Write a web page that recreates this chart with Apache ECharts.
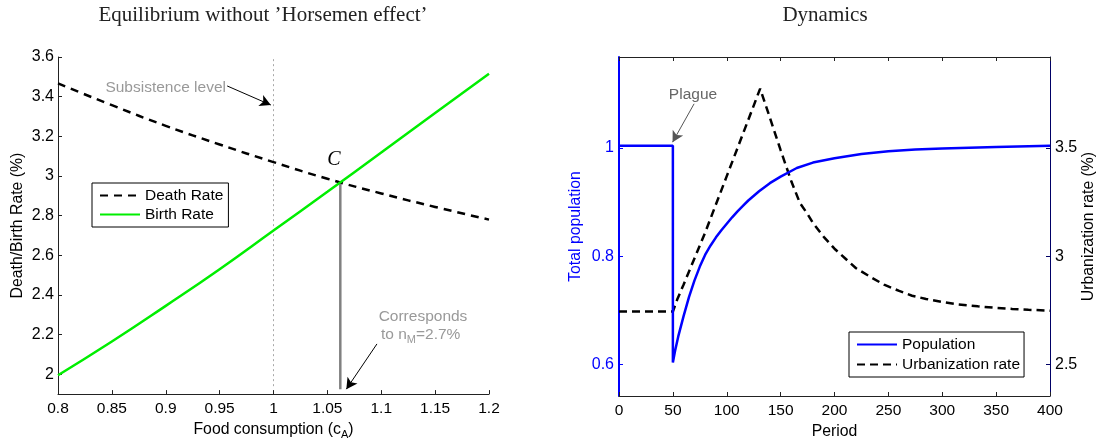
<!DOCTYPE html>
<html>
<head>
<meta charset="utf-8">
<script src="https://cdn.jsdelivr.net/npm/echarts@6/dist/echarts.min.js"></script>
<style>
html, body { margin: 0; padding: 0; background: #fff; }
#main { width: 1101px; height: 445px; }
</style>
</head>
<body>
<div id="main"></div>
<script>
// left panel: equilibrium
var foodX = [0.8, 0.85, 0.9, 0.95, 1.0, 1.05, 1.1, 1.15, 1.2];
var deathRate = [3.467, 3.357, 3.253, 3.159, 3.07, 2.986, 2.912, 2.844, 2.78];
var birthRate = [1.995, 2.165, 2.345, 2.53, 2.725, 2.92, 3.118, 3.318, 3.515];
var leftYTicks = [2, 2.2, 2.4, 2.6, 2.8, 3, 3.2, 3.4, 3.6];
var subsistenceX = 1;
var subsistenceRange = [1.94, 3.6];
var equilibriumX = 1.062;
var equilibriumRange = [1.925, 2.967];

// right panel: dynamics
var popPeriod = [0, 50, 50, 52, 55, 60, 65, 70, 75, 80, 85, 90, 95, 100, 105, 110, 115, 120, 130, 140, 150, 165, 180, 200, 225, 250, 275, 300, 350, 400];
var popValue = [1.004, 1.004, 0.604, 0.625, 0.652, 0.69, 0.725, 0.755, 0.781, 0.803, 0.82, 0.835, 0.848, 0.86, 0.872, 0.883, 0.893, 0.903, 0.92, 0.935, 0.947, 0.963, 0.973, 0.981, 0.989, 0.994, 0.997, 0.999, 1.002, 1.004];
var urbPeriod = [0, 50, 54, 60, 70, 80, 90, 100, 110, 120, 131, 140, 150, 160, 168, 175, 180, 190, 200, 210, 220, 235, 246, 260, 272, 285, 300, 315, 333, 350, 365, 380, 400];
var urbValue = [2.745, 2.745, 2.80, 2.87, 2.99, 3.11, 3.24, 3.37, 3.50, 3.63, 3.774, 3.64, 3.49, 3.345, 3.245, 3.195, 3.154, 3.09, 3.035, 2.99, 2.945, 2.9, 2.869, 2.84, 2.818, 2.803, 2.789, 2.778, 2.769, 2.762, 2.757, 2.753, 2.749];
var popTicks = [0.6, 0.8, 1];
var urbTicks = [2.5, 3, 3.5];

function pairs(xs, ys) {
    var out = [];
    for (var i = 0; i < xs.length; i++) out.push([xs[i], ys[i]]);
    return out;
}

var sans = '"Liberation Sans", Arial, Helvetica, sans-serif';
var serif = '"Liberation Serif", "Times New Roman", serif';
var xTickFont = 15.5;
var yTickFont = 16;
var nameFont = 15.8;

var chart = echarts.init(document.getElementById('main'));

var option = {
    animation: false,
    backgroundColor: '#fff',
    textStyle: { fontFamily: sans },
    grid: [
        { left: 58, top: 57, width: 431, height: 339 },
        { left: 619, top: 57, width: 431, height: 339 }
    ],
    legend: [
        {
            data: ['Death Rate', 'Birth Rate'],
            orient: 'vertical',
            left: 92, top: 183,
            itemWidth: 40, itemHeight: 14, itemGap: 2,
            padding: [4, 5, 4, 7],
            borderColor: '#000', borderWidth: 1,
            backgroundColor: '#fff',
            itemStyle: { opacity: 0 },
            textStyle: { fontSize: 15.5, color: '#000', fontFamily: sans, lineHeight: 17 }
        },
        {
            data: ['Population', 'Urbanization rate'],
            orient: 'vertical',
            left: 849, top: 332,
            itemWidth: 40, itemHeight: 14, itemGap: 3,
            padding: [4, 4, 4, 7],
            borderColor: '#000', borderWidth: 1,
            backgroundColor: '#fff',
            itemStyle: { opacity: 0 },
            textStyle: { fontSize: 15.5, color: '#000', fontFamily: sans, lineHeight: 17 }
        }
    ],
    xAxis: [
        {
            type: 'value', gridIndex: 0, min: 0.8, max: 1.2, interval: 0.05,
            name: 'Food consumption (c{sub|A})', nameLocation: 'middle', nameGap: 23,
            nameTextStyle: {
                fontSize: nameFont, color: '#000', fontFamily: sans,
                rich: { sub: { fontSize: 11, padding: [9, 0, 0, 0], color: '#000', fontFamily: sans } }
            },
            axisLine: { onZero: false, lineStyle: { color: '#222', width: 1 } },
            axisTick: { inside: true, length: 4, lineStyle: { color: '#222' } },
            axisLabel: { fontSize: xTickFont, color: '#000', margin: 7 },
            splitLine: { show: false }
        },
        {
            type: 'value', gridIndex: 1, min: 0, max: 400, interval: 50,
            name: 'Period', nameLocation: 'middle', nameGap: 25,
            nameTextStyle: { fontSize: nameFont, color: '#000', fontFamily: sans },
            axisLine: { onZero: false, lineStyle: { color: '#222', width: 1 } },
            axisTick: { inside: true, length: 4, lineStyle: { color: '#222' } },
            axisLabel: { fontSize: xTickFont, color: '#000', margin: 7 },
            splitLine: { show: false }
        },
        {
            type: 'value', gridIndex: 1, position: 'top', min: 0, max: 400, interval: 50,
            axisLine: { onZero: false, lineStyle: { color: '#222', width: 1 } },
            axisTick: { inside: true, length: 4, lineStyle: { color: '#222' } },
            axisLabel: { show: false },
            splitLine: { show: false }
        }
    ],
    yAxis: [
        {
            type: 'value', gridIndex: 0, min: 1.9, max: 3.6,
            name: 'Death/Birth Rate (%)', nameLocation: 'middle', nameGap: 32,
            nameTextStyle: { fontSize: nameFont, color: '#000', fontFamily: sans },
            axisLine: { show: true, onZero: false, lineStyle: { color: '#222', width: 1 } },
            axisTick: { show: true, inside: true, length: 4, customValues: leftYTicks, lineStyle: { color: '#222' } },
            axisLabel: { fontSize: yTickFont, color: '#000', margin: 4, customValues: leftYTicks },
            splitLine: { show: false }
        },
        {
            type: 'value', gridIndex: 1, min: 0.542, max: 1.168, position: 'left',
            name: 'Total population', nameLocation: 'middle', nameGap: 35,
            nameTextStyle: { fontSize: nameFont, color: '#0000ff', fontFamily: sans },
            axisLine: { show: true, onZero: false, lineStyle: { color: '#0000ff', width: 2 } },
            axisTick: { show: true, inside: true, length: 4, customValues: popTicks, lineStyle: { color: '#0000ff' } },
            axisLabel: { fontSize: yTickFont, color: '#0000ff', margin: 5, customValues: popTicks },
            splitLine: { show: false }
        },
        {
            type: 'value', gridIndex: 1, min: 2.355, max: 3.92, position: 'right',
            name: 'Urbanization rate (%)', nameLocation: 'middle', nameGap: 29, nameRotate: 90,
            nameTextStyle: { fontSize: nameFont, color: '#000', fontFamily: sans },
            axisLine: { show: true, onZero: false, lineStyle: { color: '#000066', width: 1 } },
            axisTick: { show: true, inside: true, length: 4, customValues: urbTicks, lineStyle: { color: '#000066' } },
            axisLabel: { fontSize: yTickFont, color: '#000', margin: 5, customValues: urbTicks },
            splitLine: { show: false }
        }
    ],
    series: [
        {
            name: 'Subsistence', type: 'line', xAxisIndex: 0, yAxisIndex: 0,
            data: [[subsistenceX, subsistenceRange[0]], [subsistenceX, subsistenceRange[1]]],
            symbol: 'none', silent: true,
            lineStyle: { color: '#a8a8a8', width: 1, type: [2, 3] },
            markLine: {
                silent: true, symbol: ['none', 'arrow'], symbolSize: [9, 11],
                label: { show: false },
                lineStyle: { color: '#000', width: 1, type: 'solid' },
                data: [
                    [{ coord: [0.957, 3.454] }, { coord: [0.9975, 3.358] }],
                    [{ coord: [1.096, 2.153] }, { coord: [1.0676, 1.925] }]
                ]
            }
        },
        {
            name: 'Equilibrium', type: 'line', xAxisIndex: 0, yAxisIndex: 0,
            data: [[equilibriumX, equilibriumRange[0]], [equilibriumX, equilibriumRange[1]]],
            symbol: 'none', silent: true,
            lineStyle: { color: '#808080', width: 2.5 }
        },
        {
            name: 'Death Rate', type: 'line', xAxisIndex: 0, yAxisIndex: 0,
            data: pairs(foodX, deathRate), smooth: true, symbol: 'none',
            lineStyle: { color: '#000', width: 2.5, type: [8, 6] },
            itemStyle: { color: '#000' }
        },
        {
            name: 'Birth Rate', type: 'line', xAxisIndex: 0, yAxisIndex: 0,
            data: pairs(foodX, birthRate), smooth: true, symbol: 'none',
            lineStyle: { color: '#00ee00', width: 2.5 },
            itemStyle: { color: '#00ee00' }
        },
        {
            name: 'Urbanization rate', type: 'line', xAxisIndex: 1, yAxisIndex: 2,
            data: pairs(urbPeriod, urbValue), symbol: 'none',
            lineStyle: { color: '#000', width: 2.5, type: [8, 5] },
            itemStyle: { color: '#000' }
        },
        {
            name: 'Population', type: 'line', xAxisIndex: 1, yAxisIndex: 1,
            data: pairs(popPeriod, popValue), symbol: 'none',
            lineStyle: { color: '#0000ff', width: 2.5 },
            itemStyle: { color: '#0000ff' },
            markLine: {
                silent: true, symbol: ['none', 'arrow'], symbolSize: [9, 11],
                label: { show: false },
                lineStyle: { color: '#555', width: 1, type: 'solid' },
                data: [
                    [{ coord: [69.7, 1.0816] }, { coord: [49.7, 1.0107] }]
                ]
            }
        }
    ],
    graphic: [
        { type: 'text', x: 263, y: 15, style: { text: 'Equilibrium without \u2019Horsemen effect\u2019', font: '21px ' + serif, fill: '#222', align: 'center', verticalAlign: 'middle' } },
        { type: 'text', x: 825, y: 15, style: { text: 'Dynamics', font: '21px ' + serif, fill: '#222', align: 'center', verticalAlign: 'middle' } },
        { type: 'text', x: 226, y: 88, style: { text: 'Subsistence level', font: '15.5px ' + sans, fill: '#999', align: 'right', verticalAlign: 'middle' } },
        { type: 'text', x: 334, y: 160, style: { text: 'C', font: 'italic 20px ' + serif, fill: '#000', align: 'center', verticalAlign: 'middle' } },
        { type: 'text', x: 423, y: 317, style: { text: 'Corresponds', font: '15.5px ' + sans, fill: '#999', align: 'center', verticalAlign: 'middle' } },
        { type: 'text', x: 381, y: 325, style: {
            text: 'to n{sub|M}=2.7%', font: '15.5px ' + sans, fill: '#999', align: 'left', verticalAlign: 'top',
            rich: { sub: { fontSize: 11, fill: '#999', padding: [9, 0, 0, 0], fontFamily: sans } }
        } },
        { type: 'text', x: 693, y: 95, style: { text: 'Plague', font: '15.5px ' + sans, fill: '#666', align: 'center', verticalAlign: 'middle' } }
    ]
};

chart.setOption(option);
</script>
</body>
</html>
